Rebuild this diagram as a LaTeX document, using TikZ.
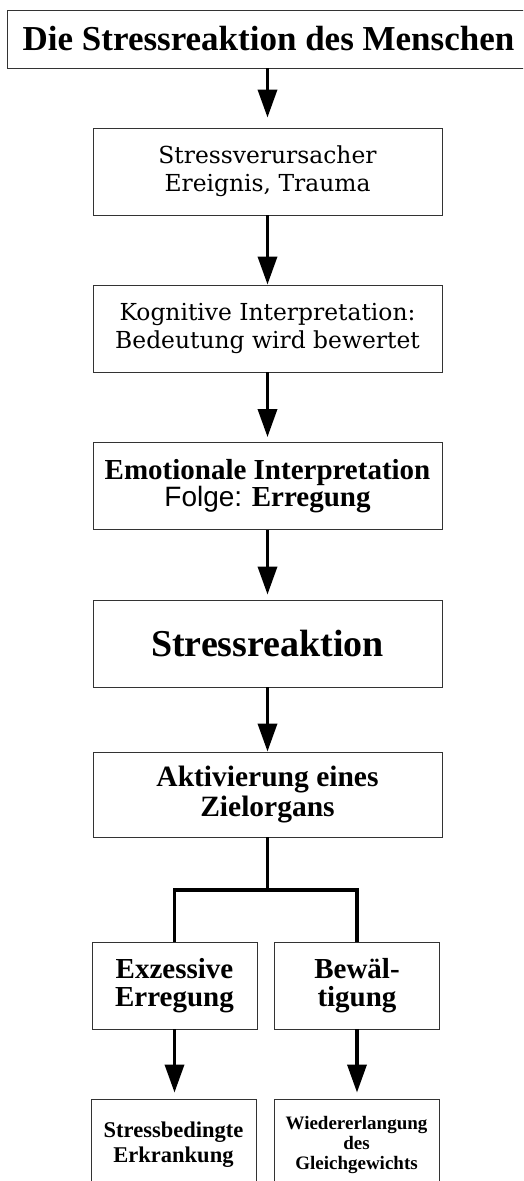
\documentclass[tikz,border=0pt]{standalone}
\usepackage{fontspec}
\setmainfont{DejaVu Serif}
\newfontfamily\tmsfont{Liberation Serif}
\newfontfamily\helvfont{Liberation Sans}
\usetikzlibrary{arrows.meta}

\begin{document}
\begin{tikzpicture}[
    x=1pt, y=-1pt,
    box/.style={rectangle, draw=black!80, line width=0.9pt, inner sep=0pt, align=center},
    wide/.style={box, minimum width=349pt, minimum height=87pt},
    half/.style={box, minimum width=165pt, minimum height=87pt},
    arrow/.style={-{Triangle[length=28pt, width=19pt]}, line width=3.5pt},
    branch/.style={line width=3.5pt}
]
    \clip (0,0) rectangle (523,1181);
    \fill[white] (0,0) rectangle (523,1181);
    % title
    \node[box, minimum width=523pt, minimum height=58pt,
          font=\tmsfont\bfseries\fontsize{35}{40}\selectfont] (titel) at (268.5,39) {Die Stressreaktion des Menschen};
    % main chain
    \node[wide, font=\fontsize{23.4}{28}\selectfont] (ausloeser) at (267.5,171.5) {Stressverursacher\\Ereignis, Trauma};
    \node[wide, font=\fontsize{23.4}{28}\selectfont] (kognitiv) at (267.5,328.5) {Kognitive Interpretation:\\Bedeutung wird bewertet};
    \node[wide, font=\tmsfont\bfseries\fontsize{29}{27}\selectfont] (emotion) at (267.5,486) {Emotionale Interpretation\\{\helvfont\mdseries\fontsize{28}{27}\selectfont Folge:} Erregung};
    \node[wide, font=\tmsfont\bfseries\fontsize{38}{40}\selectfont] (reaktion) at (267.5,643.5) {Stressreaktion};
    \node[wide, minimum height=85pt, font=\tmsfont\bfseries\fontsize{29.5}{30}\selectfont] (zielorgan) at (267.5,794.5) {Aktivierung eines\\Zielorgans};
    % branches
    \node[half, font=\tmsfont\bfseries\fontsize{29}{28}\selectfont] (exzess) at (174.5,985.5) {Exzessive\\Erregung};
    \node[half, font=\tmsfont\bfseries\fontsize{29}{28}\selectfont] (bewaelt) at (357,985.5) {Bewäl-\\tigung};
    \node[half, minimum height=91pt, font=\tmsfont\bfseries\fontsize{22.5}{25}\selectfont] (krank) at (173.5,1144.5) {Stressbedingte\\Erkrankung};
    \node[half, minimum height=91pt, font=\tmsfont\bfseries\fontsize{19}{20}\selectfont] (gleich) at (356.5,1144.5) {Wiedererlangung\\des\\Gleichgewichts};
    \coordinate (gabel) at (267.5,890);

    \draw[arrow, shorten >=10pt] (titel.south -| ausloeser) -- (ausloeser.north);
    \draw[arrow] (ausloeser) -- (kognitiv);
    \draw[arrow, shorten >=5pt] (kognitiv) -- (emotion);
    \draw[arrow, shorten >=5pt] (emotion) -- (reaktion);
    \draw[arrow] (reaktion) -- (zielorgan);
    \draw[branch] (zielorgan.south) -- (gabel);
    \draw[branch] (exzess.north) |- (gabel) -| (bewaelt.north);
    \draw[arrow, shorten >=6pt] (exzess) -- (krank.north -| exzess);
    \draw[arrow, shorten >=6pt] (bewaelt) -- (gleich.north -| bewaelt);
\end{tikzpicture}
\end{document}
